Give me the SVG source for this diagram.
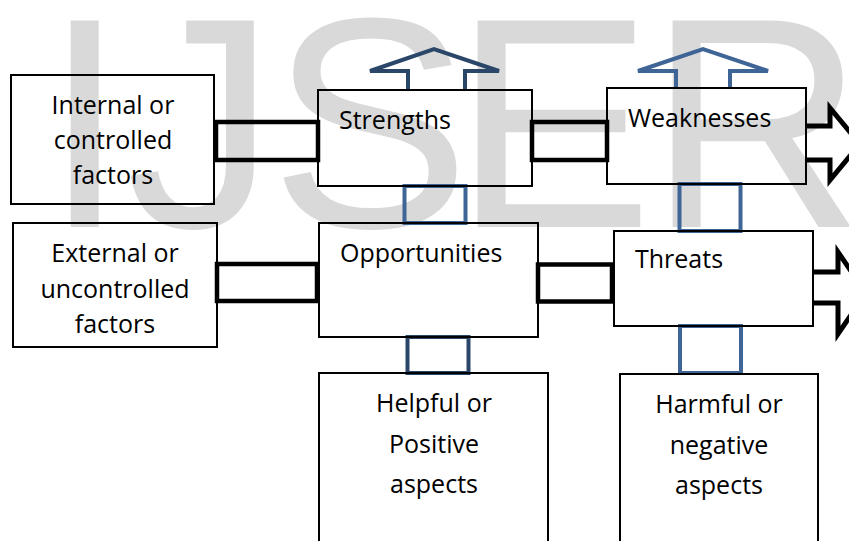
<svg xmlns="http://www.w3.org/2000/svg" width="849" height="541" viewBox="0 0 849 541">
<style>
.wm{font-family:"Liberation Sans",Arial,sans-serif;font-size:300px;fill:#d9d9d9}
.box{fill:none;stroke:#000;stroke-width:2}
.t{font-family:"Open Sans","Liberation Sans",sans-serif;font-size:25px;fill:#000}
.c{text-anchor:middle}
.bar{fill:none;stroke:#000;stroke-width:4.5}
.arr{fill:none;stroke:#000;stroke-width:5;stroke-miterlimit:10}
.navy{fill:none;stroke:#2a4669;stroke-width:4}
.blue{fill:none;stroke:#3f6597;stroke-width:4}
</style>
<rect width="849" height="541" fill="#fff"/>
<g id="watermark">
<text class="wm" x="43" y="227">I</text>
<text class="wm" x="126" y="227">J</text>
<text class="wm" x="270" y="227">S</text>
<text class="wm" x="453" y="227">E</text>
<text class="wm" x="648" y="227">R</text>
</g>
<g id="connectors">
<rect class="bar" x="216" y="122" width="102" height="38"/>
<rect class="bar" x="532" y="122" width="75" height="38"/>
<rect class="bar" x="217" y="264" width="100" height="37"/>
<rect class="bar" x="538" y="264.5" width="74" height="37"/>
<path class="arr" d="M806,126 H830 V108 L860,144 L830,180 V160 H806"/>
<path class="arr" d="M813,272 H838 V252 L866,293 L838,334 V303 H813"/>
<path class="navy" d="M408,90 V71 H370 L434,49 L499,71 H465 V90"/>
<path class="blue" d="M676,88 V71 H638 L703,49 L768,71 H730 V88"/>
<rect class="blue" x="404.5" y="186" width="61" height="37"/>
<rect class="navy" x="407.5" y="337" width="61" height="36"/>
<rect class="blue" x="679.5" y="184" width="61" height="47"/>
<rect class="blue" x="680" y="326" width="61" height="47"/>
</g>
<g id="internal">
<rect class="box" x="11" y="75" width="203" height="129"/>
<text class="t c" x="113" y="114">Internal or</text>
<text class="t c" x="113" y="149">controlled</text>
<text class="t c" x="113" y="184">factors</text>
</g>
<g id="external">
<rect class="box" x="13" y="223" width="204" height="124"/>
<text class="t c" x="115" y="262">External or</text>
<text class="t c" x="115" y="298">uncontrolled</text>
<text class="t c" x="115" y="333">factors</text>
</g>
<g id="strengths">
<rect class="box" x="318" y="90" width="214" height="96"/>
<text class="t" x="339" y="129">Strengths</text>
</g>
<g id="weaknesses">
<rect class="box" x="607" y="88" width="199" height="96"/>
<text class="t" x="628" y="127">Weaknesses</text>
</g>
<g id="opportunities">
<rect class="box" x="319" y="223" width="219" height="114"/>
<text class="t" x="340" y="262">Opportunities</text>
</g>
<g id="threats">
<rect class="box" x="614" y="231" width="199" height="95"/>
<text class="t" x="635" y="268">Threats</text>
</g>
<g id="helpful">
<rect class="box" x="319" y="373" width="229" height="175"/>
<text class="t c" x="434" y="412">Helpful or</text>
<text class="t c" x="434" y="453">Positive</text>
<text class="t c" x="434" y="493">aspects</text>
</g>
<g id="harmful">
<rect class="box" x="620" y="374" width="198" height="175"/>
<text class="t c" x="719" y="413">Harmful or</text>
<text class="t c" x="719" y="454">negative</text>
<text class="t c" x="719" y="494">aspects</text>
</g>
</svg>
